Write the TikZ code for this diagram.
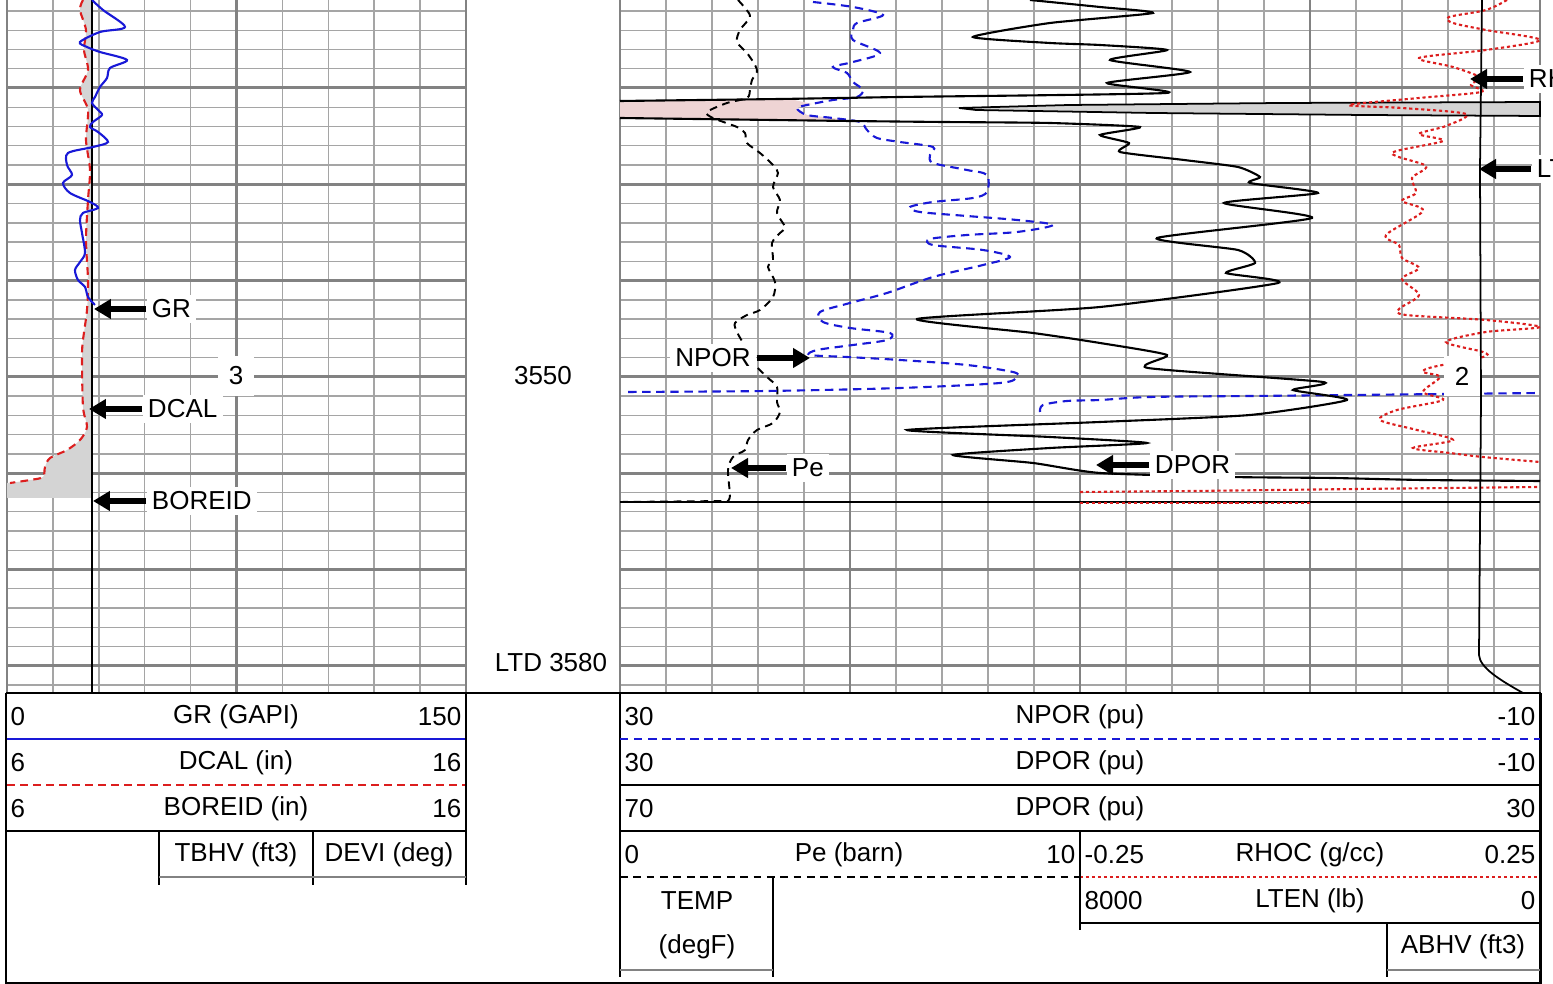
\documentclass[tikz,border=0pt]{standalone}
\usepackage{fontspec}
\setmainfont{Liberation Sans}
\usetikzlibrary{arrows.meta}

\definecolor{azul}{RGB}{25,25,215}
\definecolor{rojo}{RGB}{220,30,30}
\definecolor{rejilla}{RGB}{165,165,165}
\definecolor{rejillaf}{RGB}{130,130,130}
\definecolor{rosa}{RGB}{238,212,212}
\definecolor{sombra}{RGB}{212,212,212}

\tikzset{
  menor/.style={draw=rejilla, line width=0.4pt},
  mayor/.style={draw=rejillaf, line width=0.85pt},
  flecha/.style={line width=1.45pt, -{Triangle[length=1.7mm,width=1.9mm]}},
  etiqueta/.style={fill=white, inner sep=1.5pt},
  txt/.style={inner sep=0pt},
  curvagr/.style={azul, line width=0.6pt},
  curvadcal/.style={rojo, line width=0.6pt, dash pattern=on 2.2pt off 1.5pt},
  curvanpor/.style={azul, line width=0.6pt, dash pattern=on 2.4pt off 1.6pt},
  curvape/.style={black, line width=0.55pt, dash pattern=on 2.2pt off 1.6pt},
  curvadpor/.style={black, line width=0.6pt},
  curvarhoc/.style={rojo, line width=0.6pt, dash pattern=on 0.9pt off 0.8pt},
  marco/.style={black, line width=0.5pt}
}

\begin{document}
\begin{tikzpicture}[x=0.1mm, y=-0.1mm, font=\fontsize{7.4}{9}\selectfont]
  \useasboundingbox (0,0) rectangle (1553,984);
  \begin{scope}
  \clip (0,0) rectangle (1553,984);

  % Rejilla pista izquierda
  \foreach \k in {-4,...,31}
    \draw[menor] (7,{88+19.26*\k}) -- (466,{88+19.26*\k});
  \foreach \i in {1,...,9}
    \draw[menor] ({7+45.9*\i},0) -- ({7+45.9*\i},693);
  \foreach \k in {0,...,6}
    \draw[mayor] (7,{88+96.3*\k}) -- (466,{88+96.3*\k});
  \foreach \x in {7,236.5,466}
    \draw[mayor] (\x,0) -- (\x,693);

  % Rejilla pista derecha
  \foreach \k in {-4,...,31}
    \draw[menor] (620,{88+19.26*\k}) -- (1540,{88+19.26*\k});
  \foreach \i in {1,...,19}
    \draw[menor] ({620+46*\i},0) -- ({620+46*\i},693);
  \foreach \k in {0,...,6}
    \draw[mayor] (620,{88+96.3*\k}) -- (1540,{88+96.3*\k});
  \foreach \x in {620,850,1080,1310,1540}
    \draw[mayor] (\x,0) -- (\x,693);

  % Sombreados
  \fill[sombra] (92,0) -- plot[smooth, tension=0.5] coordinates {(83,0) (80,10) (86,30) (84,50) (88,70) (80,90) (88,110) (86,140) (90,170) (88,200) (86,240) (88,280) (87,310) (83,340) (82,357) (83,407) (87,427) (80,440) (67,450) (50,458) (45,467) (43,477) (30,480) (10,483)} -- (7,483) -- (7,498) -- (92,498) -- cycle;
  \fill[rosa] (620,101) -- (790,99) -- (812,104) -- (797,108) -- (807,115) -- (833,118) -- (850,121) -- (620,118) -- cycle;
  \filldraw[fill=sombra, draw=black, line width=0.5pt] (959,108) -- (1069,105) -- (1280,103) -- (1540,102) -- (1540,116) -- (1364,115) -- (1153,113) -- (976,110) -- cycle;

  % Curvas pista izquierda
  \draw[black, line width=0.5pt] (92,0) -- (92,693);
  \draw[curvadcal] plot[smooth, tension=0.5] coordinates {(83,0) (80,10) (86,30) (84,50) (88,70) (80,90) (88,110) (86,140) (90,170) (88,200) (86,240) (88,280) (87,310) (83,340) (82,357) (83,407) (87,427) (80,440) (67,450) (50,458) (45,467) (43,477) (30,480) (10,483)};
  \draw[curvagr] plot[smooth, tension=0.5] coordinates {(92,0) (103,10) (125,27) (100,32) (80,42) (87,47) (100,52) (127,60) (110,68) (107,78) (100,87) (95,97) (92,103) (98,110) (102,115) (93,122) (90,127) (98,132) (108,142) (93,147) (68,153) (67,165) (72,175) (63,183) (70,193) (90,202) (98,208) (83,213) (80,220) (82,233) (85,253) (80,262) (75,270) (78,280) (85,287) (88,297) (95,305)};

  % Curvas pista derecha
  \draw[curvape] plot[smooth, tension=0.5] coordinates {(738,0) (745,8) (750,17) (740,30) (737,42) (747,53) (755,65) (757,72) (752,80) (750,90) (747,98) (727,103) (707,112) (713,118) (737,127) (745,133) (747,143) (760,153) (773,165) (778,173) (773,187) (780,200) (777,213) (785,227) (780,233) (772,243) (773,260) (768,267) (775,282) (773,297) (760,310) (747,315) (735,323) (737,332) (743,343) (747,352) (753,363) (767,377) (777,387) (777,402) (780,412) (773,423) (757,430) (748,440) (745,450) (733,457) (728,470) (730,495) (728,501)} -- (620,502);
  \draw[curvanpor] plot[smooth, tension=0.5] coordinates {(813,2) (853,7) (883,15) (857,23) (853,30) (853,40) (880,53) (853,62) (833,67) (847,73) (853,82) (863,90) (857,97) (833,100) (812,104) (797,108) (807,115) (833,118) (860,122) (867,130) (877,138) (900,142) (933,147) (930,155) (933,163) (967,170) (987,175) (987,192) (973,198) (933,202) (910,207) (920,212) (967,216) (1017,220) (1053,225) (1017,232) (967,235) (930,239) (933,245) (983,250) (1010,257) (983,265) (933,277) (887,293) (850,303) (820,312) (823,322) (850,328) (890,333) (887,340) (853,345) (817,350) (810,355) (847,357) (900,360) (967,365) (1013,372) (1017,377) (1000,383) (900,388) (767,391) (623,392)};
  \draw[curvanpor] plot[smooth, tension=0.5] coordinates {(1040,412) (1043,405) (1067,401) (1100,400) (1150,397) (1250,396) (1350,395) (1540,393)};
  \draw[curvadpor] plot[smooth, tension=0.35] coordinates {(1030,0) (1100,7) (1153,13) (1050,23) (973,37) (1050,43) (1100,45) (1167,50) (1110,60) (1190,72) (1107,83) (1166,93) (900,97) (780,99) (620,101)};
  \draw[curvadpor] plot[smooth, tension=0.35] coordinates {(620,118) (850,121) (943,122) (1050,123) (1140,127) (1100,135) (1129,143) (1120,152) (1184,160) (1238,167) (1260,177) (1250,183) (1318,193) (1224,203) (1312,218) (1157,238) (1238,250) (1255,263) (1226,273) (1278,283) (1100,307) (917,319) (1033,333) (1100,343) (1167,355) (1148,368) (1323,382) (1293,390) (1347,400) (1250,415) (1100,422) (907,430) (1050,437) (1147,443) (1050,448) (953,455) (1033,463) (1100,473) (1230,477) (1333,478) (1422,480) (1540,481)};
  \draw[curvadpor] (620,502) -- (1540,502);
  \draw[curvarhoc] plot[smooth, tension=0.5] coordinates {(1507,0) (1486,10) (1449,17) (1453,23) (1486,30) (1540,40) (1486,50) (1419,58) (1453,67) (1479,77) (1471,85) (1481,92) (1419,98) (1349,105) (1402,108) (1466,114) (1446,126) (1419,134) (1443,141) (1392,153) (1426,166) (1412,178) (1416,193) (1402,201) (1423,211) (1386,235) (1399,245) (1402,258) (1419,268) (1402,279) (1419,295) (1399,309) (1406,315) (1486,320) (1540,327) (1486,332) (1446,342) (1483,352) (1483,357) (1433,367) (1423,372) (1440,377) (1423,392) (1443,400) (1397,410) (1380,420) (1417,430) (1453,440) (1413,448) (1450,453) (1483,457) (1540,462)};
  \draw[curvarhoc] (1080,492) -- (1193,491) -- (1357,489) -- (1540,487);
  \draw[curvarhoc] (1080,503) -- (1310,503);
  \draw[black, line width=0.5pt] (1482,0) -- (1480,169) -- (1481,400) -- (1479,655) .. controls (1480,668) and (1500,680) .. (1523,693);

  % Etiquetas de profundidad y de curva
  \node[etiqueta, inner sep=3pt] (tres) at (236,376) {3};
  \node[etiqueta, inner sep=3pt] (dos) at (1462,376) {2};
  \node (prof) at (543,376) {3550};
  \node (ltd) at (551,663) {LTD 3580};

  \node[etiqueta, anchor=west] (lgr) at (146,309) {GR};
  \coordinate (pgr) at (94,309);
  \draw[flecha] (lgr) -- (pgr);
  \node[etiqueta, anchor=west] (ldcal) at (142,409) {DCAL};
  \coordinate (pdcal) at (89,409);
  \draw[flecha] (ldcal) -- (pdcal);
  \node[etiqueta, anchor=west] (lbore) at (146,501) {BOREID};
  \coordinate (pbore) at (93,501);
  \draw[flecha] (lbore) -- (pbore);
  \node[etiqueta] (lnpor) at (713,358) {NPOR};
  \coordinate (pnpor) at (810,358);
  \draw[flecha] (lnpor) -- (pnpor);
  \node[etiqueta, anchor=west] (lpe) at (786,468) {Pe};
  \coordinate (ppe) at (731,468);
  \draw[flecha] (lpe) -- (ppe);
  \node[etiqueta, anchor=west] (ldpor) at (1149,465) {DPOR};
  \coordinate (pdpor) at (1096,465);
  \draw[flecha] (ldpor) -- (pdpor);
  \node[etiqueta, anchor=west] (lrhoc) at (1523,79) {RHOC};
  \coordinate (prhoc) at (1470,79);
  \draw[flecha] (lrhoc) -- (prhoc);
  \node[etiqueta, anchor=west] (llten) at (1531,169) {LTEN};
  \coordinate (plten) at (1479,169);
  \draw[flecha] (llten) -- (plten);

  % Marco de la cabecera
  \draw[marco] (6,693) -- (1541,693);
  \draw[marco] (6,693) -- (6,983) -- (1541,983) -- (1541,693);

  % Cabecera izquierda
  \node[txt, anchor=west] (grmin) at (10,717) {0};
  \node[txt] (grtit) at (236,717) {GR (GAPI)};
  \node[txt, anchor=east] (grmax) at (462,717) {150};
  \draw[azul, line width=0.6pt] (7,739) -- (466,739);
  \node[txt, anchor=west] (dcalmin) at (10,763) {6};
  \node[txt] (dcaltit) at (236,763) {DCAL (in)};
  \node[txt, anchor=east] (dcalmax) at (462,763) {16};
  \draw[curvadcal] (7,785) -- (466,785);
  \node[txt, anchor=west] (boremin) at (10,809) {6};
  \node[txt] (boretit) at (236,809) {BOREID (in)};
  \node[txt, anchor=east] (boremax) at (462,809) {16};
  \draw[marco] (7,831) -- (466,831);
  \node[txt] (tbhv) at (236,855) {TBHV (ft3)};
  \node[txt] (devi) at (389,855) {DEVI (deg)};
  \draw[marco] (159,831) -- (159,885);
  \draw[marco] (313,831) -- (313,885);
  \draw[marco] (466,693) -- (466,885);
  \draw[rejillaf, line width=0.5pt] (159,877) -- (466,877);

  % Cabecera derecha
  \draw[marco] (620,693) -- (620,977);
  \draw[marco] (1540,693) -- (1540,983);
  \node[txt, anchor=west] (npormin) at (624,717) {30};
  \node[txt] (nportit) at (1080,717) {NPOR (pu)};
  \node[txt, anchor=east] (npormax) at (1536,717) {-10};
  \draw[curvanpor] (620,739) -- (1540,739);
  \node[txt, anchor=west] (dpormin) at (624,763) {30};
  \node[txt] (dportit) at (1080,763) {DPOR (pu)};
  \node[txt, anchor=east] (dpormax) at (1536,763) {-10};
  \draw[marco] (620,785) -- (1540,785);
  \node[txt, anchor=west] (dpormin2) at (624,809) {70};
  \node[txt] (dportit2) at (1080,809) {DPOR (pu)};
  \node[txt, anchor=east] (dpormax2) at (1536,809) {30};
  \draw[marco] (620,831) -- (1540,831);
  \node[txt, anchor=west] (pemin) at (624,855) {0};
  \node[txt] (petit) at (849,855) {Pe (barn)};
  \node[txt, anchor=east] (pemax) at (1076,855) {10};
  \draw[curvape] (620,877) -- (1080,877);
  \node[txt, anchor=west] (rhocmin) at (1084,855) {-0.25};
  \node[txt] (rhoctit) at (1310,855) {RHOC (g/cc)};
  \node[txt, anchor=east] (rhocmax) at (1536,855) {0.25};
  \draw[curvarhoc] (1080,877) -- (1540,877);
  \draw[marco] (1080,831) -- (1080,930);
  \node[txt] (temp) at (697,901) {TEMP};
  \node[txt] (degf) at (697,947) {(degF)};
  \draw[marco] (773,877) -- (773,977);
  \draw[rejillaf, line width=0.5pt] (620,970) -- (773,970);
  \node[txt, anchor=west] (ltenmin) at (1084,901) {8000};
  \node[txt] (ltentit) at (1310,901) {LTEN (lb)};
  \node[txt, anchor=east] (ltenmax) at (1536,901) {0};
  \draw[marco] (1080,923) -- (1540,923);
  \node[txt] (abhv) at (1463,947) {ABHV (ft3)};
  \draw[marco] (1387,923) -- (1387,977);
  \draw[rejillaf, line width=0.5pt] (1387,970) -- (1540,970);
  \end{scope}
\end{tikzpicture}
\end{document}
